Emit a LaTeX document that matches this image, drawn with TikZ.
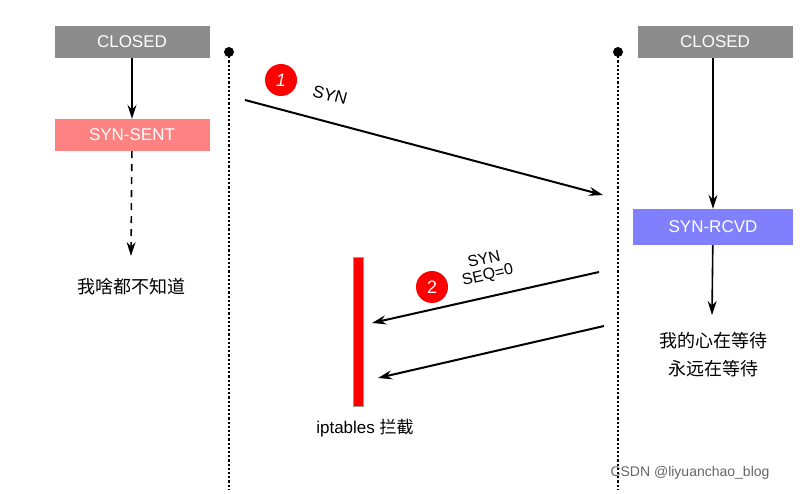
\documentclass[tikz,border=0pt]{standalone}
\usepackage{fontspec}
\setmainfont{Liberation Sans}
\newfontfamily\cjk{Noto Sans CJK SC}
\usetikzlibrary{arrows.meta}
\begin{document}
\begin{tikzpicture}[x=1pt,y=-1pt,
  state/.style={minimum width=155pt,minimum height=32pt,inner sep=0pt,text=white,font=\fontsize{17}{19}\selectfont},
  arr/.style={-{Stealth[length=14pt,width=9pt]},line width=2pt},
  life/.style={dotted,line width=2.2pt},
  num/.style={circle,fill=red,text=white,minimum size=32pt,inner sep=0pt,font=\fontsize{18}{20}\selectfont},
  lbl/.style={font=\fontsize{17}{19}\selectfont,align=center,inner sep=1pt}]
\useasboundingbox (0,0) rectangle (805,494);
\node[state,fill=black!45] (c1) at (132,42) {CLOSED};
\node[state,fill=black!45] (c2) at (715,42) {CLOSED};
\node[state,fill={rgb,255:red,255;green,130;blue,130}] (ss) at (132,135) {SYN-SENT};
\node[state,fill={rgb,255:red,128;green,128;blue,255},minimum width=160pt,minimum height=36pt] (sr) at (713,227) {SYN-RCVD};
\node[lbl,font=\cjk\fontsize{18}{20}\selectfont] (t1) at (131,287) {我啥都不知道};
\node[lbl,font=\cjk\fontsize{18}{28}\selectfont] (t2) at (713,355) {我的心在等待\\永远在等待};
\node[lbl] (t3) at (365,428) {iptables {\cjk 拦截}};
\node[font=\fontsize{14}{16}\selectfont,text=black!60] (wm) at (690,473) {CSDN @liyuanchao\_blog};
% lifelines
\coordinate (l1) at (229,52); \coordinate (l1e) at (229,490);
\coordinate (l2) at (618,52); \coordinate (l2e) at (618,490);
\draw[life] (l1) -- (l1e);
\draw[life] (l2) -- (l2e);
\fill (l1) circle (5pt); \fill (l2) circle (5pt);
% state arrows
\coordinate (d1) at (131,256);
\coordinate (d2) at (712,315);
\draw[arr,line width=1.6pt] (c1) -- (ss);
\draw[arr,line width=1.6pt,dash pattern=on 7pt off 6pt] (ss) -- (d1);
\draw[arr,line width=1.6pt] (c2.south -| sr) -- (sr);
\draw[arr,line width=1.6pt] (sr) -- (d2);
% red bar
\node[fill=red,draw=black!40,line width=0.4pt,minimum width=10pt,minimum height=149pt,inner sep=0pt] (bar) at (358,332) {};
% messages
\coordinate (a1s) at (245,100); \coordinate (a1e) at (603,195);
\coordinate (a2s) at (599,272); \coordinate (a2e) at (372,323);
\coordinate (a3s) at (604,326); \coordinate (a3e) at (378,378);
\draw[arr] (a1s) -- (a1e);
\draw[arr] (a2s) -- (a2e);
\draw[arr] (a3s) -- (a3e);
\node[num] (n1) at (281,80) {\itshape 1};
\node[num] (n2) at (432,287) {2};
\node[lbl,rotate=-15] (s1) at (330,95) {SYN};
\node[lbl,rotate=13,font=\fontsize{16}{16}\selectfont] (s2) at (486,268) {SYN\\SEQ=0};
\end{tikzpicture}
\end{document}
